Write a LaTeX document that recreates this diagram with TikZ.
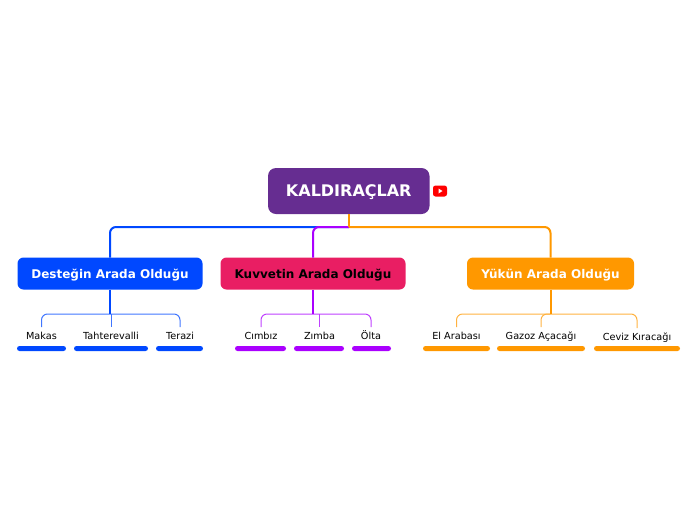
\documentclass[tikz,border=0pt]{standalone}
\usepackage{fontspec}
\setmainfont{DejaVu Sans}
\definecolor{rootc}{HTML}{662D91}
\definecolor{bluec}{HTML}{0048FF}
\definecolor{pinkc}{HTML}{E91E63}
\definecolor{purplec}{HTML}{AA00FF}
\definecolor{orangec}{HTML}{FF9800}
\tikzset{
  rootbox/.style={fill=rootc,text=white,rounded corners=8pt,minimum width=161.5pt,minimum height=46pt,inner sep=0pt,outer sep=0pt,text height=11pt,text depth=0pt,font=\fontsize{16}{18}\bfseries\selectfont},
  branchbox/.style={rounded corners=6pt,minimum height=32pt,inner sep=0pt,outer sep=0pt,text height=9.5pt,text depth=0pt,font=\fontsize{12}{15}\bfseries\selectfont},
  leaf/.style={minimum height=16pt,inner sep=0pt,outer sep=0pt,text=black,text height=8pt,text depth=0pt,font=\fontsize{9.7}{12}\selectfont},
  bar/.style={rounded corners=2.5pt,minimum height=5pt,inner sep=0pt,outer sep=0pt},
  main/.style={line width=2pt,rounded corners=6pt},
  sub/.style={line width=1pt,rounded corners=6pt},
}
\begin{document}
\begin{tikzpicture}[x=1pt,y=-1pt]
\useasboundingbox (0,0) rectangle (696,520);
\node[rootbox] (kok) at (348.75,191) {KALDIRAÇLAR};
\node[branchbox,fill=bluec,text=white,minimum width=185pt] (des) at (110,273.5) {Desteğin Arada Olduğu};
\node[branchbox,fill=pinkc,text=black,minimum width=185pt] (kuv) at (313,273.5) {Kuvvetin Arada Olduğu};
\node[branchbox,fill=orangec,text=white,minimum width=167pt] (yuk) at (550.5,273.5) {Yükün Arada Olduğu};
\coordinate (j) at (kok.south |- 0,227);
\draw[main,bluec] (j) -| (des.north);
\draw[main,purplec] (j) -| (kuv.north);
\draw[main,orangec] (j) -| (yuk.north);
\draw[line width=2pt,orangec] (kok.south) -- (j);
% YouTube icon
\fill[red,rounded corners=2.5pt] (433,185.5) rectangle (447,196.5);
\fill[white] (438.5,188.5) -- (442.5,191) -- (438.5,193.5) -- cycle;
% leaves
\node[leaf] (makas) at (41.5,335) {Makas};
\node[leaf] (taht) at (111,335) {Tahterevalli};
\node[leaf] (terazi) at (180,335) {Terazi};
\node[leaf] (cimbiz) at (261,335) {Cımbız};
\node[leaf] (zimba) at (319.5,335) {Zımba};
\node[leaf] (olta) at (371,335) {Ölta};
\node[leaf] (el) at (456.5,335) {El Arabası};
\node[leaf] (gazoz) at (541,335) {Gazoz Açacağı};
\node[leaf] (ceviz) at (637,336) {Ceviz Kıracağı};
\node[bar,fill=bluec,minimum width=49pt] (b1) at (41.5,348.5) {};
\node[bar,fill=bluec,minimum width=74pt] (b2) at (111,348.5) {};
\node[bar,fill=bluec,minimum width=47pt] (b3) at (179.5,348.5) {};
\node[bar,fill=purplec,minimum width=51pt] (b4) at (260.5,348.5) {};
\node[bar,fill=purplec,minimum width=50pt] (b5) at (319,348.5) {};
\node[bar,fill=purplec,minimum width=39pt] (b6) at (371.5,348.5) {};
\node[bar,fill=orangec,minimum width=67pt] (b7) at (456.5,348.5) {};
\node[bar,fill=orangec,minimum width=88pt] (b8) at (541,348.5) {};
\node[bar,fill=orangec,minimum width=86pt] (b9) at (637,348.5) {};
% sub-connectors
\coordinate (jb) at (des.south |- 0,314);
\coordinate (jp) at (kuv.south |- 0,314);
\coordinate (jo) at (yuk.south |- 0,314);
\draw[sub,bluec!75] (jb) -| (makas.north);
\draw[line width=1pt,bluec!75] (jb -| taht.north) -- (taht.north);
\draw[sub,bluec!75] (jb) -| (terazi.north);
\draw[line width=2pt,bluec] (des.south) -- (jb);
\draw[sub,purplec!75] (jp) -| (cimbiz.north);
\draw[line width=1pt,purplec!75] (jp -| zimba.north) -- (zimba.north);
\draw[sub,purplec!75] (jp) -| (olta.north);
\draw[line width=2pt,purplec] (kuv.south) -- (jp);
\draw[sub,orangec!75] (jo) -| (el.north);
\draw[sub,orangec!75] (jo) -| (gazoz.north);
\draw[sub,orangec!75] (jo) -| (ceviz.north);
\draw[line width=2pt,orangec] (yuk.south) -- (jo);
\end{tikzpicture}
\end{document}
